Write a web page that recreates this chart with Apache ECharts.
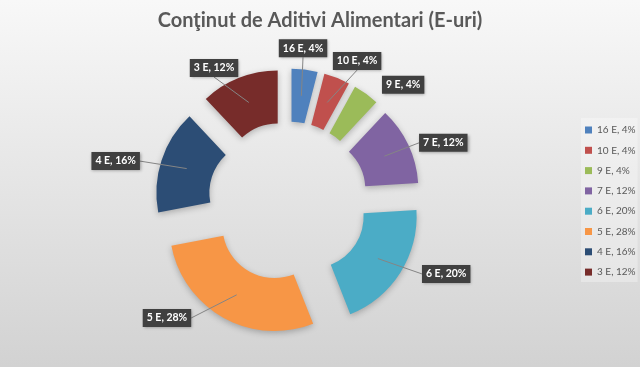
<!DOCTYPE html>
<html><head><meta charset="utf-8">
<script src="https://cdn.jsdelivr.net/npm/echarts@6/dist/echarts.min.js"></script>
<style>html,body{margin:0;padding:0;background:#fff}#c{width:640px;height:367px}</style>
</head><body><div id="c"></div>
<script>
// ---- data ----
const categories = ['16 E', '10 E', '9 E', '7 E', '6 E', '5 E', '4 E', '3 E'];
const values = [1, 1, 1, 3, 5, 7, 4, 3];
const percents = [4, 4, 4, 12, 20, 28, 16, 12];

// ---- styles / layout ----
const colors = ['#4F81BD', '#C0504D', '#9BBB59', '#8064A2', '#4BACC6', '#F79646', '#2C4D75', '#772C2A'];
// label placement: [angle clockwise from top (deg), distance from pie centre (px)]
const labelPolar = [[5.6, 154], [26.2, 156.5], [44.6, 164], [69.3, 166], [114.6, 174], [226.1, 168], [283.2, 177], [331, 152.6]];
const showLeader = [true, true, false, true, true, true, true, true];
const FONT = 'Lato';
const PIE_CENTER = [288, 201.5];
const PIE_RADIUS = [52, 105];
const EXPLODE = 28;

const chart = echarts.init(document.getElementById('c'), null, {renderer: 'canvas'});
const nameOf = i => categories[i] + ', ' + percents[i] + '%';

const option = {
  animation: false,
  backgroundColor: {
    type: 'linear', x: 0, y: 0, x2: 0, y2: 1,
    colorStops: [{offset: 0, color: '#f8f8f8'}, {offset: 1, color: '#d2d2d2'}]
  },
  title: {
    text: 'Conţinut de Aditivi Alimentari (E-uri)',
    left: 'center', top: 6,
    textStyle: {fontFamily: FONT, fontSize: 20, fontWeight: 'bold', color: '#595959'}
  },
  legend: {
    orient: 'vertical', left: 581, top: 118,
    padding: [6, 2, 4, 4],
    backgroundColor: 'rgba(255,255,255,0.3)',
    itemWidth: 7, itemHeight: 7, itemGap: 8.3, icon: 'rect',
    selectedMode: false,
    textStyle: {fontFamily: FONT, fontSize: 10, color: '#595959', lineHeight: 12},
    data: categories.map((c, i) => nameOf(i))
  },
  series: [{
    // visible exploded slices
    type: 'pie',
    z: 2,
    center: PIE_CENTER,
    radius: PIE_RADIUS,
    startAngle: 90,
    clockwise: true,
    selectedMode: 'multiple',
    selectedOffset: EXPLODE,
    emphasis: {disabled: true},
    silent: true,
    itemStyle: {shadowBlur: 6, shadowColor: 'rgba(0,0,0,0.25)', shadowOffsetY: 2},
    label: {show: false},
    labelLine: {show: false},
    data: values.map((v, i) => ({
      name: nameOf(i), value: v, selected: true,
      itemStyle: {color: colors[i]},
      select: {itemStyle: {color: colors[i]}}
    }))
  }, {
    // same data, invisible slices, carries the data labels
    type: 'pie',
    z: 5,
    center: PIE_CENTER,
    radius: PIE_RADIUS,
    startAngle: 90,
    clockwise: true,
    avoidLabelOverlap: false,
    selectedMode: false,
    emphasis: {disabled: true},
    silent: true,
    itemStyle: {color: 'rgba(0,0,0,0)'},
    label: {
      show: true, position: 'outside',
      formatter: p => p.name,
      fontFamily: FONT, fontSize: 10.5, fontWeight: 'bold', color: '#ffffff',
      backgroundColor: '#404040', padding: [4, 4, 3, 4],
      shadowBlur: 3, shadowColor: 'rgba(0,0,0,0.35)', shadowOffsetX: 1, shadowOffsetY: 1
    },
    labelLine: {show: true, lineStyle: {color: '#858585', width: 1}},
    labelLayout: function (p) {
      const i = p.dataIndex;
      const a = labelPolar[i][0] * Math.PI / 180, dist = labelPolar[i][1];
      const lay = chart.getModel().getSeriesByIndex(1).getData().getItemLayout(i);
      const x = lay.cx + dist * Math.sin(a), y = lay.cy - dist * Math.cos(a);
      const w = p.labelRect.width, h = p.labelRect.height;
      const mid = (lay.startAngle + lay.endAngle) / 2;
      const rr = EXPLODE + (lay.r0 + lay.r) / 2;
      const sx = lay.cx + rr * Math.cos(mid), sy = lay.cy + rr * Math.sin(mid);
      const dx = sx - x, dy = sy - y;
      let ex, ey;
      if (Math.abs(dy) / (h / 2) > Math.abs(dx) / (w / 2)) {
        ex = x; ey = y + (dy > 0 ? h / 2 : -h / 2);
      } else {
        ex = x + (dx > 0 ? w / 2 : -w / 2); ey = y;
      }
      return {
        x: x, y: y, align: 'center', verticalAlign: 'middle',
        labelLinePoints: [[sx, sy], [ex, ey], [ex, ey]]
      };
    },
    data: values.map((v, i) => ({
      name: nameOf(i), value: v,
      labelLine: {show: showLeader[i]}
    }))
  }]
};
chart.setOption(option);
</script>
</body></html>
